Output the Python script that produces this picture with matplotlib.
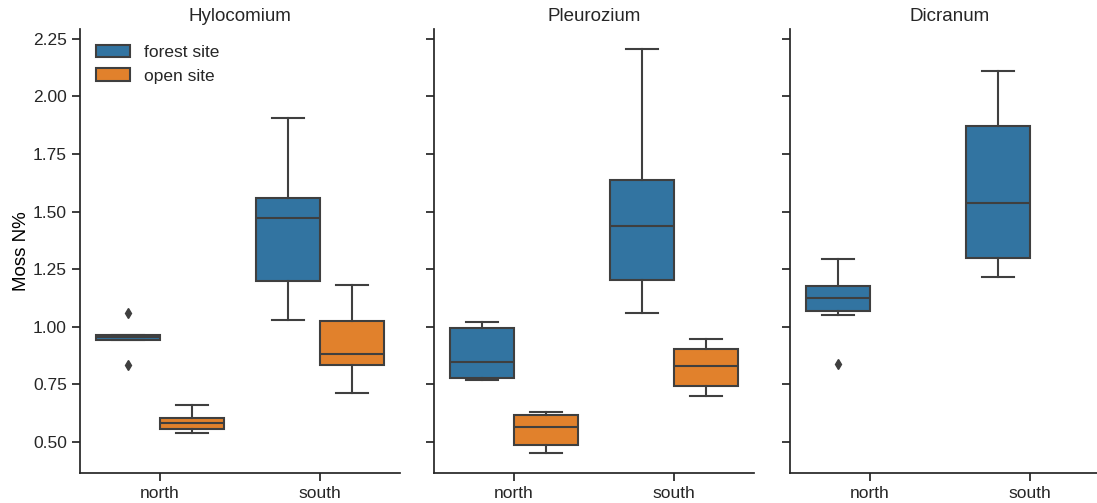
import matplotlib
matplotlib.use("Agg")
import matplotlib.pyplot as plt
from matplotlib.patches import Patch

plt.rcParams['font.family'] = ['Liberation Sans', 'DejaVu Sans']
plt.rcParams['text.color'] = '.15'
plt.rcParams['axes.edgecolor'] = '.15'
plt.rcParams['xtick.color'] = '.15'
plt.rcParams['ytick.color'] = '.15'

# summary stats per site: [whislo, q1, med, q3, whishi]
sites = ["north", "south"]
species = ["Hylocomium", "Pleurozium", "Dicranum"]
habitats = ["forest site", "open site"]

hylocomium_forest = [[0.942, 0.942, 0.953, 0.963, 0.963], [1.029, 1.198, 1.47, 1.56, 1.905]]
hylocomium_open = [[0.538, 0.555, 0.58, 0.602, 0.661], [0.711, 0.834, 0.882, 1.023, 1.182]]
pleurozium_forest = [[0.77, 0.778, 0.847, 0.992, 1.022], [1.059, 1.202, 1.439, 1.636, 2.205]]
pleurozium_open = [[0.452, 0.486, 0.562, 0.617, 0.63], [0.70, 0.74, 0.83, 0.902, 0.948]]
dicranum_forest = [[1.051, 1.067, 1.123, 1.178, 1.293], [1.217, 1.298, 1.535, 1.873, 2.111]]
dicranum_open = [None, None]

# outliers per site
hylocomium_forest_fliers = [[1.061, 0.834], []]
dicranum_forest_fliers = [[0.837], []]
no_fliers = [[], []]

data = {
    "Hylocomium": [(hylocomium_forest, hylocomium_forest_fliers), (hylocomium_open, no_fliers)],
    "Pleurozium": [(pleurozium_forest, no_fliers), (pleurozium_open, no_fliers)],
    "Dicranum": [(dicranum_forest, dicranum_forest_fliers), (dicranum_open, no_fliers)],
}

colors = ["#3274a1", "#e1812c"]
line_col = "#3f3f3f"

fig = plt.figure(figsize=(10.97, 5.03), dpi=100)
lefts = [0.0729, 0.3956, 0.7201]
axes = []
for i, left in enumerate(lefts):
    ax = fig.add_axes([left, 0.0596, 0.2917, 0.8827],
                      sharey=axes[0] if axes else None)
    axes.append(ax)

for ax, sp in zip(axes, species):
    for h, (stats, fliers) in enumerate(data[sp]):
        bxp_stats = []
        pos = []
        for s, st in enumerate(stats):
            if st is None:
                continue
            bxp_stats.append(dict(whislo=st[0], q1=st[1], med=st[2], q3=st[3],
                                  whishi=st[4], fliers=fliers[s]))
            pos.append(s - 0.2 + 0.4 * h)
        if not bxp_stats:
            continue
        ax.bxp(bxp_stats, positions=pos, widths=0.395, capwidths=0.2,
               patch_artist=True, manage_ticks=False,
               boxprops=dict(facecolor=colors[h], edgecolor=line_col, linewidth=1.5),
               medianprops=dict(color=line_col, linewidth=1.5),
               whiskerprops=dict(color=line_col, linewidth=1.5),
               capprops=dict(color=line_col, linewidth=1.5),
               flierprops=dict(marker='d', markerfacecolor=line_col,
                               markeredgecolor=line_col, markersize=5.5))
    ax.set_xlim(-0.5, 1.5)
    ax.set_xticks(range(len(sites)))
    ax.set_xticklabels(sites)
    ax.set_title(sp, fontsize=13.5, pad=5.5)
    ax.spines['top'].set_visible(False)
    ax.spines['right'].set_visible(False)
    ax.spines['left'].set_linewidth(1.25)
    ax.spines['bottom'].set_linewidth(1.25)
    ax.tick_params(labelsize=12.5, width=1.25, length=6)

axes[0].set_ylim(0.364, 2.293)
axes[0].set_yticks([0.5, 0.75, 1.0, 1.25, 1.5, 1.75, 2.0, 2.25])
axes[0].set_yticklabels(["0.50", "0.75", "1.00", "1.25", "1.50", "1.75", "2.00", "2.25"])
axes[0].set_ylabel("Moss N%", fontsize=13.5, labelpad=2)
for ax in axes[1:]:
    ax.tick_params(labelleft=False)

handles = [Patch(facecolor=c, edgecolor=line_col, linewidth=1.5) for c in colors]
axes[0].legend(handles, habitats, loc="upper left", frameon=False, fontsize=12.5)

fig.savefig("out.png", dpi=100)
